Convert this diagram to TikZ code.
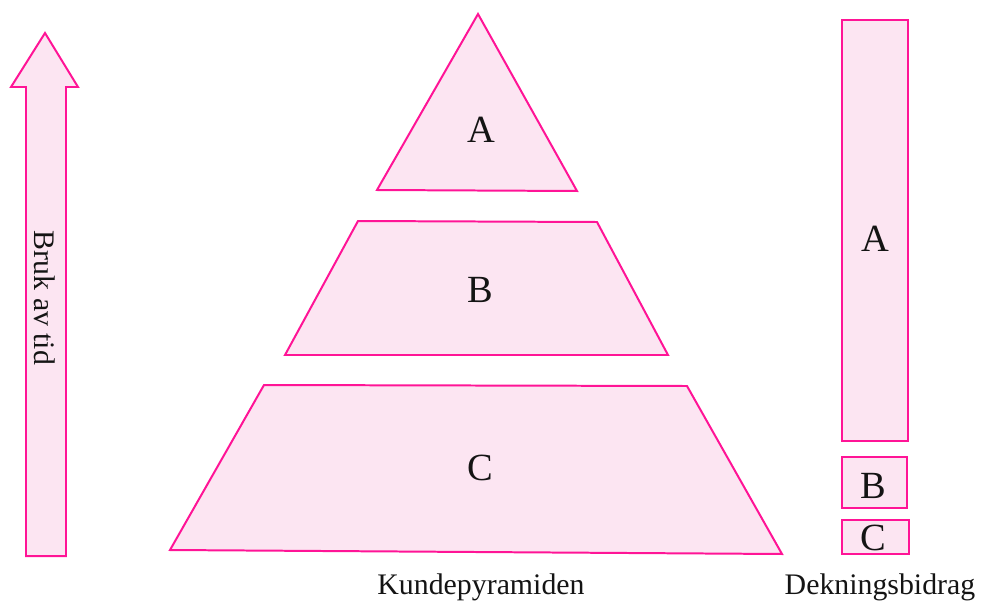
\documentclass[tikz,border=0pt]{standalone}
\usepackage{fontspec}
\setmainfont{Liberation Serif}
\definecolor{kpink}{RGB}{255,20,150}
\definecolor{kfill}{RGB}{252,229,242}
\definecolor{ktext}{RGB}{20,20,20}

\begin{document}
\begin{tikzpicture}[
    x=0.0265cm, y=-0.0265cm,
    line cap=round, line join=miter,
    layer/.style={draw=kpink, fill=kfill, line width=1.5pt},
    big/.style={ktext, font=\fontsize{29}{34}\selectfont, inner sep=0pt},
    caption/.style={ktext, font=\fontsize{22.5}{27}\selectfont, inner sep=0pt},
  ]
  \useasboundingbox (0,0) rectangle (982,606);

  % ---- time arrow -------------------------------------------
  \draw[layer] (45,33) -- (78,87) -- (66,87) -- (66,556) -- (26,556)
        -- (26,87) -- (11,87) -- cycle;
  \node[caption, rotate=-90] (tid) at (45,298) {Bruk av tid};

  % ---- customer pyramid -------------------------------------
  \draw[layer] (478,14) -- (577,191) -- (377,190) -- cycle;
  \draw[layer] (358,221) -- (597,222) -- (668,355) -- (285,355) -- cycle;
  \draw[layer] (264,385) -- (687,386) -- (782,554) -- (170,550) -- cycle;
  \node[big] (pA) at (481,130) {A};
  \node[big] (pB) at (480,290) {B};
  \node[big] (pC) at (480,468) {C};
  \node[caption] (kunde) at (481,587) {Kundepyramiden};

  % ---- contribution bars ------------------------------------
  \draw[layer] (842,20)  rectangle (908,441);
  \draw[layer] (842,457) rectangle (907,508);
  \draw[layer] (842,520) rectangle (909,554);
  \node[big] (bA) at (875,239) {A};
  \node[big] (bB) at (873,486) {B};
  \node[big] (bC) at (873,538) {C};
  \node[caption] (dekning) at (880,587) {Dekningsbidrag};

\end{tikzpicture}
\end{document}
